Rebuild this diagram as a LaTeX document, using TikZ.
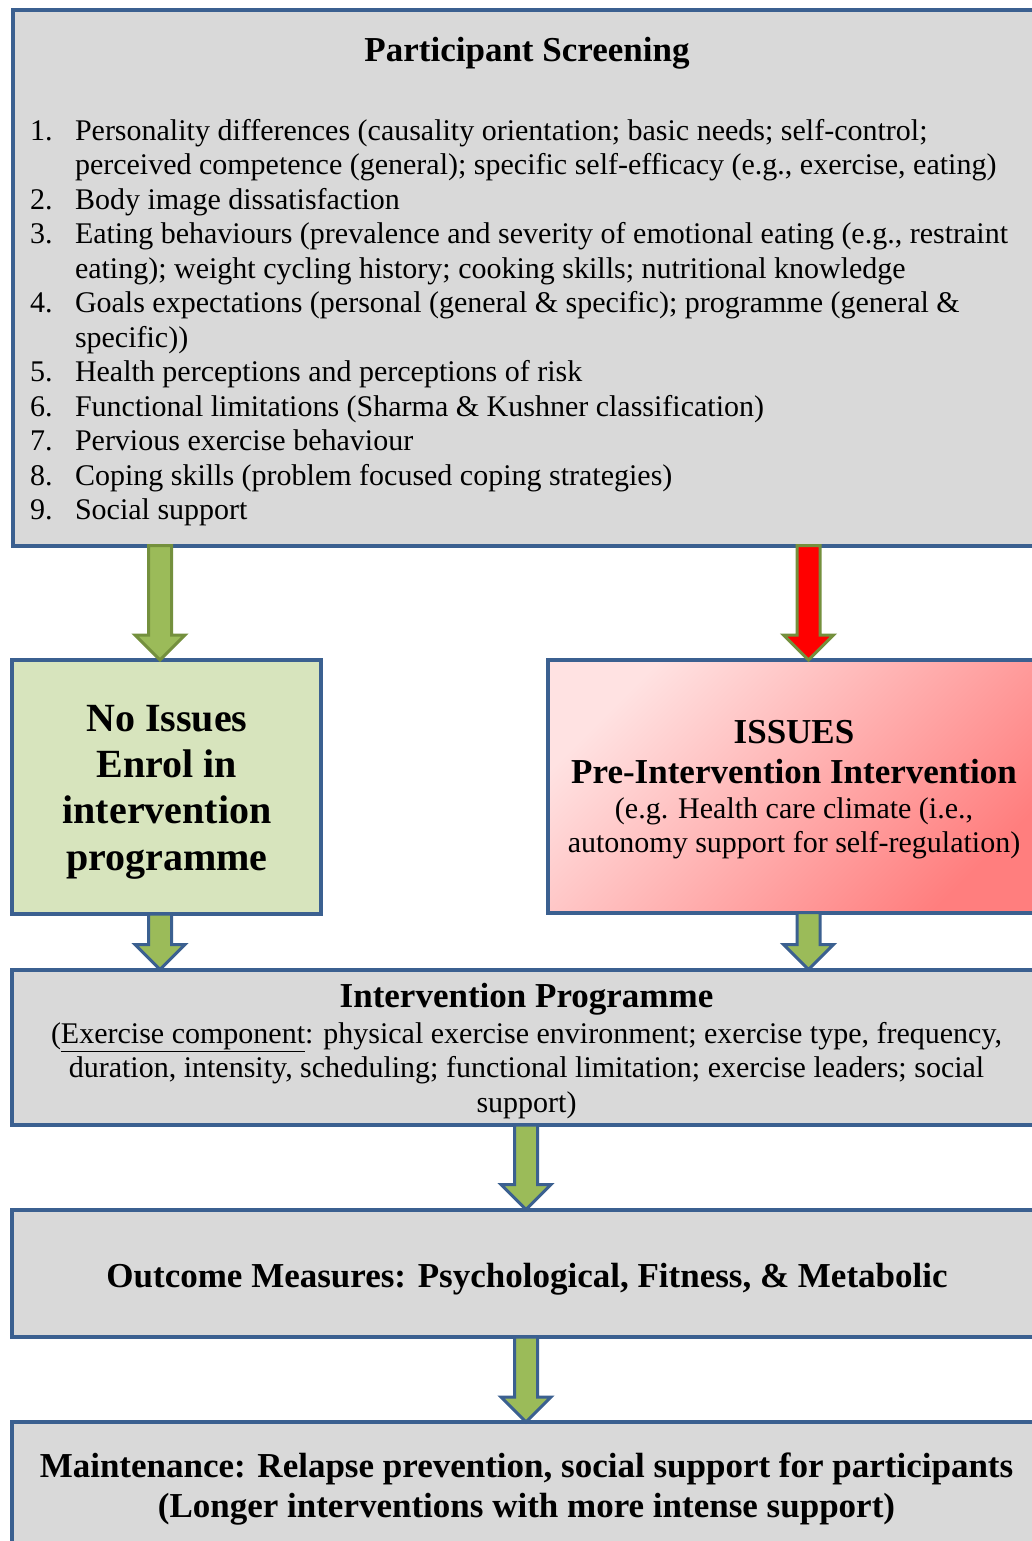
\documentclass[tikz,border=0pt]{standalone}
\usepackage{fontspec}
\setmainfont{Liberation Serif}
\usetikzlibrary{calc}

\definecolor{boxgray}{HTML}{D9D9D9}
\definecolor{boxblue}{HTML}{3B6090}
\definecolor{okfill}{HTML}{D7E4BD}
\definecolor{arrowgreen}{HTML}{9BBB59}
\definecolor{arrowolive}{HTML}{74903D}
\definecolor{pinklight}{HTML}{FFE2E2}
\definecolor{pinkdark}{HTML}{FF7E7E}

\newcommand\bodyfont{\fontsize{30}{34.5}\selectfont}
\newcommand\headfont{\fontsize{35}{40}\selectfont\bfseries}
\newcommand\bigheadfont{\fontsize{40}{46.4}\selectfont\bfseries}

% block arrow: #1 style, #2 start point, #3 tip point
\newcommand\blockarrow[3]{%
  \path[#1] let \p1=(#2), \p2=(#3) in
    (\x1-11.5pt,\y1) -- (\x1+11.5pt,\y1) -- (\x1+11.5pt,\y2+25pt)
    -- (\x1+25pt,\y2+25pt) -- (\x2,\y2) -- (\x1-25pt,\y2+25pt)
    -- (\x1-11.5pt,\y2+25pt) -- cycle;
}

\begin{document}
\begin{tikzpicture}[x={(1pt,0pt)}, y={(0pt,-1pt)},
  flowbox/.style={rectangle, draw=boxblue, line width=4pt, fill=boxgray,
    inner sep=0pt, outer sep=0pt, anchor=north west},
  txt/.style={inner sep=0pt, outer sep=0pt},
  greenarrow/.style={fill=arrowgreen, draw=arrowolive, line width=3pt, line join=miter},
  redarrow/.style={fill=red, draw=arrowolive, line width=3pt, line join=miter},
  bluearrow/.style={fill=arrowgreen, draw=boxblue, line width=3pt, line join=miter}]

\useasboundingbox (0,0) rectangle (1032,1541);
\clip (0,0) rectangle (1032,1541);
\fill[white] (0,0) rectangle (1032,1541);

% boxes
\node[flowbox, minimum width=1031pt, minimum height=535.5pt] (screen) at (12.5,10) {};
\node[flowbox, fill=okfill, minimum width=308.5pt, minimum height=254pt] (noissue) at (12,660) {};
\node[flowbox, top color=pinklight, bottom color=pinkdark, shading angle=45,
      minimum width=495pt, minimum height=252.5pt] (issues) at (547.5,660) {};
\node[flowbox, minimum width=1031pt, minimum height=155.5pt] (interv) at (12,969.5) {};
\node[flowbox, minimum width=1031pt, minimum height=127.5pt] (outcome) at (12,1209.5) {};
\node[flowbox, minimum width=1031pt, minimum height=200pt] (maint) at (12,1422) {};

% arrow columns
\coordinate (xl) at (160,0);
\coordinate (xr) at (808.5,0);
\coordinate (xm) at (526,0);

% connectors
\blockarrow{greenarrow}{screen.south -| xl}{noissue.north -| xl}
\blockarrow{redarrow}{screen.south -| xr}{issues.north -| xr}
\blockarrow{bluearrow}{noissue.south -| xl}{interv.north -| xl}
\blockarrow{bluearrow}{issues.south -| xr}{interv.north -| xr}
\blockarrow{bluearrow}{interv.south -| xm}{outcome.north -| xm}
\blockarrow{bluearrow}{outcome.south -| xm}{maint.north -| xm}

% screening text
\node[txt, anchor=base] (screentitle) at (527,62) {\headfont Participant Screening};
\node[txt, anchor=base west] (items) at (30,140.5) {\bodyfont
  \begin{tabular}[t]{@{}p{45pt}@{}l@{}}
  1. & Personality differences (causality orientation; basic needs; self-control;\\
     & perceived competence (general); specific self-efficacy (e.g., exercise, eating)\\
  2. & Body image dissatisfaction\\
  3. & Eating behaviours (prevalence and severity of emotional eating (e.g., restraint\\
     & eating); weight cycling history; cooking skills; nutritional knowledge\\
  4. & Goals expectations (personal (general \& specific); programme (general \&\\
     & specific))\\
  5. & Health perceptions and perceptions of risk\\
  6. & Functional limitations (Sharma \& Kushner classification)\\
  7. & Pervious exercise behaviour\\
  8. & Coping skills (problem focused coping strategies)\\
  9. & Social support
  \end{tabular}};

% branch texts
\node[txt, anchor=base] (noissuetext) at (167,731) {\bigheadfont
  \begin{tabular}[t]{@{}c@{}}No Issues\\ Enrol in\\ intervention\\ programme\end{tabular}};
\node[txt, anchor=base] (issuestitle) at (794,743) {\headfont
  \begin{tabular}[t]{@{}c@{}}ISSUES\\ Pre-Intervention Intervention\end{tabular}};
\node[txt, anchor=base] (issuestext) at (794,818) {\bodyfont
  \begin{tabular}[t]{@{}c@{}}(e.g. Health care climate (i.e.,\\ autonomy support for self-regulation)\end{tabular}};

% programme text
\node[txt, anchor=base] (intervtitle) at (526.5,1007) {\headfont Intervention Programme};
\node[txt, anchor=base] (intervtext) at (526.5,1043) {\bodyfont
  \begin{tabular}[t]{@{}c@{}}(\underline{Exercise component}: physical exercise environment; exercise type, frequency,\\
  duration, intensity, scheduling; functional limitation; exercise leaders; social\\
  support)\end{tabular}};

\node[txt, anchor=base] (outcometext) at (527,1287) {\headfont
  Outcome Measures: Psychological, Fitness, \& Metabolic};

\node[txt, anchor=base] (mainttext) at (526.5,1477) {\headfont
  \begin{tabular}[t]{@{}c@{}}Maintenance: Relapse prevention, social support for participants\\
  (Longer interventions with more intense support)\end{tabular}};
\end{tikzpicture}
\end{document}
